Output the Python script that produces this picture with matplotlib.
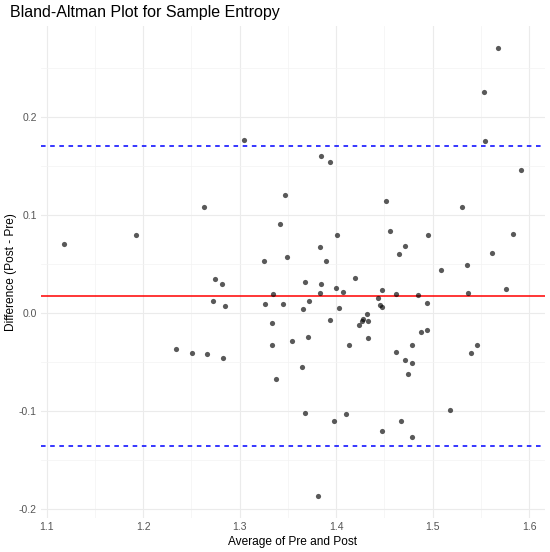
import matplotlib
matplotlib.use("Agg")
import matplotlib.pyplot as plt
import numpy as np
from matplotlib.ticker import MultipleLocator

plt.rcParams['font.family'] = ['Liberation Sans', 'DejaVu Sans']

# Average of pre and post
avg = [1.118, 1.193, 1.263, 1.304, 1.274, 1.282, 1.3255, 1.3415, 1.347, 1.349,
       1.272, 1.2845, 1.335, 1.3265, 1.345, 1.333, 1.3335, 1.234, 1.251, 1.266,
       1.283, 1.338, 1.354, 1.568, 1.5535, 1.5545, 1.384, 1.394, 1.592, 1.452,
       1.530, 1.456, 1.4006, 1.4954, 1.583, 1.383, 1.471, 1.389, 1.465, 1.562,
       1.509, 1.536, 1.368, 1.384, 1.420, 1.400, 1.407, 1.448, 1.576, 1.383,
       1.462, 1.485, 1.537, 1.3715, 1.3656, 1.4026, 1.443, 1.4456, 1.447, 1.494,
       1.3936, 1.424, 1.428, 1.432, 1.433, 1.427, 1.371, 1.433, 1.413, 1.488,
       1.4946, 1.479, 1.462, 1.471, 1.479, 1.474, 1.540, 1.546, 1.365, 1.368,
       1.398, 1.4105, 1.447, 1.467, 1.479, 1.518, 1.381]
# Difference (post - pre)
diff = [0.0710, 0.0802, 0.1085, 0.1765, 0.0350, 0.0302, 0.0534, 0.0914, 0.1207, 0.0574,
        0.0122, 0.0071, 0.0194, 0.0095, 0.0092, -0.0096, -0.0323, -0.0364, -0.0408, -0.0418,
        -0.0459, -0.0670, -0.0286, 0.2707, 0.2261, 0.1758, 0.1608, 0.1549, 0.1465, 0.1143,
        0.1082, 0.0842, 0.0796, 0.0796, 0.0807, 0.0680, 0.0690, 0.0529, 0.0605, 0.0615,
        0.0444, 0.0491, 0.0319, 0.0299, 0.0355, 0.0255, 0.0222, 0.0235, 0.0250, 0.0207,
        0.0192, 0.0187, 0.0205, 0.0126, 0.0041, 0.0057, 0.0151, 0.0082, 0.0062, 0.0105,
        -0.0068, -0.0116, -0.0061, -0.0005, -0.0081, -0.0079, -0.0245, -0.0249, -0.0327, -0.0194,
        -0.0172, -0.0327, -0.0395, -0.0473, -0.0504, -0.0619, -0.0405, -0.0323, -0.0550, -0.1020,
        -0.1102, -0.1028, -0.1201, -0.1099, -0.1259, -0.0990, -0.1861]

mean_diff = 0.0177
upper_loa = 0.1703
lower_loa = -0.1350

x_ticks = [1.1, 1.2, 1.3, 1.4, 1.5, 1.6]
x_tick_labels = ["1.1", "1.2", "1.3", "1.4", "1.5", "1.6"]
y_ticks = [-0.2, -0.1, 0.0, 0.1, 0.2]
y_tick_labels = ["-0.2", "-0.1", "0.0", "0.1", "0.2"]

fig = plt.figure(figsize=(5.5, 5.52), dpi=100)
ax = fig.add_axes([0.0745, 0.0616, 0.9156, 0.8918])

ax.set_xlim(1.094, 1.616)
ax.set_ylim(-0.209, 0.2935)

ax.set_xticks(x_ticks)
ax.set_xticklabels(x_tick_labels)
ax.set_yticks(y_ticks)
ax.set_yticklabels(y_tick_labels)
ax.xaxis.set_minor_locator(MultipleLocator(0.05))
ax.yaxis.set_minor_locator(MultipleLocator(0.05))

ax.grid(which='major', color='#EBEBEB', linewidth=0.8)
ax.grid(which='minor', color='#F3F3F3', linewidth=0.5)
ax.set_axisbelow(True)
for s in ax.spines.values():
    s.set_visible(False)
ax.tick_params(which='both', length=0)
ax.tick_params(axis='both', labelsize=7.5, colors='#555555', pad=3)

ax.scatter(avg, diff, s=14, color='black', alpha=0.65, linewidths=0, zorder=3)
ax.axhline(mean_diff, color='red', linewidth=1.1, zorder=2)
ax.axhline(upper_loa, color='blue', linewidth=1.1, linestyle=(0, (3, 3)), zorder=2)
ax.axhline(lower_loa, color='blue', linewidth=1.1, linestyle=(0, (3, 3)), zorder=2)

ax.set_xlabel("Average of Pre and Post", fontsize=8.6, color='black', labelpad=2.5)
ax.set_ylabel("Difference (Post - Pre)", fontsize=8.6, color='black', labelpad=1.5)
fig.text(0.018, 0.977, "Bland-Altman Plot for Sample Entropy", fontsize=11.5,
         ha='left', va='center', color='black')

fig.savefig("out.png", dpi=100, facecolor='white')
